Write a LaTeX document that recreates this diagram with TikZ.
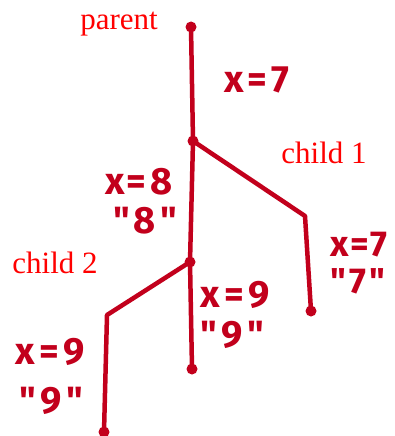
\documentclass[tikz,border=0pt]{standalone}
\usepackage{fontspec}
\setmainfont{Liberation Serif}
\newfontfamily\handfont[LetterSpace=12]{Fira Sans}
\newfontfamily\handfontnarrow[LetterSpace=6]{Fira Sans}
\definecolor{ink}{HTML}{C2001C}
\begin{document}
\begin{tikzpicture}[x=1pt,y=-1pt,
  edge/.style={draw=ink,line width=4.5pt,line cap=round,line join=round},
  dot/.style={circle,fill=ink,inner sep=0pt,minimum size=11pt},
  tag/.style={text=red,font=\fontsize{31}{32}\selectfont,inner sep=0pt,anchor=base},
  hand/.style={text=ink,font=\handfont\bfseries\fontsize{38}{38}\selectfont,inner sep=0pt},
  handedge/.style={text=ink,font=\handfontnarrow\bfseries\fontsize{36}{36}\selectfont,inner sep=0pt}]
\useasboundingbox (0,0) rectangle (394,436);
% tree nodes
\node[dot] (p)  at (191,27)  {};
\node[dot] (f1) at (193,141) {};
\node[dot] (f2) at (190,262) {};
\node[dot] (m)  at (192,369) {};
\node[dot] (c1) at (311,311) {};
\node[dot] (c2) at (104,432) {};
\coordinate (b1) at (305,216);
\coordinate (b2) at (107,315);
% connectors
\draw[edge] (p.center) -- (f1.center);
\draw[edge] (f1.center) -- (f2.center);
\draw[edge] (f2.center) -- (m.center);
\draw[edge] (f1.center) -- (b1) -- (c1.center);
\draw[edge] (f2.center) -- (b2) -- (c2.center);
% typed labels
\node[tag] (tp)  at (119,30)  {parent};
\node[tag] (tc1) at (324,163) {child 1};
\node[tag] (tc2) at (55,273)  {child 2};
% handwritten labels
\node[hand] (h1) at (257,80)  {x=7};
\node[hand] (h2) at (139,182) {x\kern2pt=8};
\node[hand] (h3) at (145,221) {"8"};
\node[handedge,anchor=east] (h4) at (388,245) {x=7};
\node[handedge,anchor=east] (h5) at (385,281) {"7"};
\node[hand] (h6) at (235,295) {x=9};
\node[hand] (h7) at (232,335) {"9"};
\node[hand] (h8) at (50,352)  {x=9};
\node[hand] (h9) at (51,401)  {"9"};
\end{tikzpicture}
\end{document}
